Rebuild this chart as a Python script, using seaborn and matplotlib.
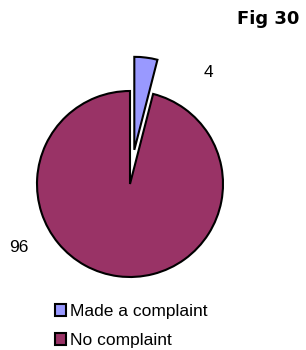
import matplotlib
matplotlib.use("Agg")
import matplotlib.pyplot as plt
import seaborn as sns

# data
categories = ["Made a complaint", "No complaint"]
values = [4, 96]
colors = ["#9999FF", "#993366"]

sns.set_style("white")
plt.rcParams["font.family"] = ["Liberation Sans", "DejaVu Sans"]
plt.rcParams["text.color"] = "black"

fig = plt.figure(figsize=(3.06, 3.5), dpi=100)
W, H = 306, 350
R = 93.0  # pie radius in px
cx, cy = 130, 350 - 184
ax = fig.add_axes([0, 40 / H, 260 / W, 260 / H])

wedges, texts = ax.pie(
    values,
    labels=[str(v) for v in values],
    colors=colors,
    startangle=90,
    counterclock=False,
    explode=[0.37, 0],
    wedgeprops=dict(edgecolor="black", linewidth=1.5),
    textprops=dict(fontsize=12.5, color="black"),
)

ax.set_xlim(-cx / R, (260 - cx) / R)
ax.set_ylim(-(cy - 40) / R, (300 - cy) / R)
ax.set_aspect("equal", adjustable="box")

# label positions
texts[0].set_position((0.84, 1.20))
texts[0].set_ha("center")
texts[0].set_va("center")
texts[1].set_position((-1.20, -0.68))
texts[1].set_ha("center")
texts[1].set_va("center")

fig.text(299 / W, 1 - 23.5 / H, "Fig 30", ha="right", va="baseline",
         fontsize=13, fontweight="bold", family="DejaVu Sans", color="black")

leg = fig.legend(wedges, categories, loc="lower left",
                 bbox_to_anchor=(55 / W, 2 / H), frameon=False,
                 fontsize=12.5, handlelength=0.65, handleheight=0.65,
                 handletextpad=0.2, labelspacing=0.8, borderpad=0,
                 borderaxespad=0)
for h in leg.legend_handles:
    h.set_linewidth(1.5)
for t in leg.get_texts():
    t.set_color("black")

fig.savefig("out.png", dpi=100)
